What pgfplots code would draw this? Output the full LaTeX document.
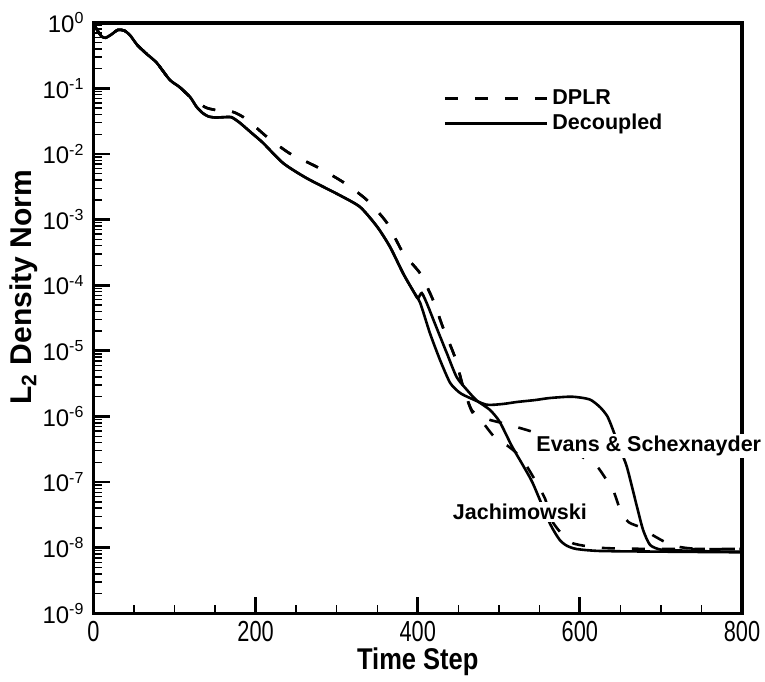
\documentclass[border=0pt]{standalone}
\usepackage{fontspec}
\setmainfont{Liberation Sans}
\usepackage{pgfplots}
\pgfplotsset{compat=1.18}

\begin{document}
\begin{tikzpicture}
\begin{axis}[
  scale only axis, width=324.25pt, height=295.3pt,
  ymode=log, xmin=0, xmax=800, ymin=1e-9, ymax=1,
  xtick={0,200,400,600,800}, xticklabels={0,200,400,600,800},
  minor x tick num=3,
  ytick={1e-9,1e-8,1e-7,1e-6,1e-5,1e-4,1e-3,1e-2,1e-1,1},
  yticklabels={10\textsuperscript{-9},10\textsuperscript{-8},10\textsuperscript{-7},10\textsuperscript{-6},10\textsuperscript{-5},10\textsuperscript{-4},10\textsuperscript{-3},10\textsuperscript{-2},10\textsuperscript{-1},10\textsuperscript{0}},
  tick pos=left, tick align=inside,
  axis line style={line width=1.8pt},
  major tick length=8pt, minor tick length=4pt,
  every major tick/.append style={line width=1.4pt, black},
  every minor tick/.append style={line width=0.7pt, black},
  xticklabel style={font=\fontsize{14.5}{14.5}\selectfont, xscale=0.75, inner sep=0pt, yshift=-4pt},
  yticklabel style={font=\fontsize{12}{12}\selectfont, xshift=-1pt},
  every axis x label/.style={at={(rel axis cs:0.5,0)}, yshift=-24pt, anchor=center, inner sep=0pt},
  every axis y label/.style={at={(rel axis cs:0,0.552)}, xshift=-34.8pt, rotate=90, anchor=center},
  xlabel={\bfseries\fontsize{15}{15}\selectfont\scalebox{0.85}[1]{Time Step}},
  ylabel={\bfseries\fontsize{15}{15}\selectfont L\textsubscript{2} Density Norm},
  clip mode=individual,
  legend style={at={(rel axis cs:0.539,0.895)}, anchor=north west, draw=none, fill=none,
    font=\bfseries\fontsize{10.75}{12}\selectfont, row sep=-1pt, inner sep=0pt,
    nodes={inner sep=2.2pt}},
  legend cell align=left,
  legend image code/.code={\draw[#1] (0pt,0pt) -- (51pt,0pt);},
  every axis plot/.append style={black, line width=1.3pt, smooth, tension=0.4},
  dplr/.style={dash pattern=on 6.5pt off 8.5pt},
]
% DPLR, Jachimowski
\addplot[dplr] coordinates {
(0,0.955) (5,0.759) (10,0.617) (15,0.589) (22,0.661) (30,0.776) (38,0.759)
(45,0.646) (54,0.457) (66,0.331) (78,0.245) (94,0.135) (106,0.105) (119,0.0741)
(130,0.0589) (140,0.0501) (155,0.0457) (172,0.0437) (185,0.0363) (200,0.0257)
(214,0.0182) (242,0.0102) (276,6.31e-3) (308,3.72e-3) (337,2.0e-3) (362,8.91e-4)
(382,3.09e-4) (403,1.51e-4) (419,5.89e-5) (431,2.29e-5) (446,7.94e-6) (456,2.82e-6)
(467,1.17e-6) (480,8.13e-7) (495,4.79e-7) (510,3.63e-7) (522,2.75e-7) (535,1.70e-7)
(547,9.55e-8) (557,5.6e-8) (562,3.5e-8) (567,2.4e-8) (579,1.55e-8) (591,1.17e-8)
(616,1.02e-8) (640,9.77e-9) (700,9.55e-9) (800,9.55e-9)};
\addlegendentry{DPLR}
% Decoupled, Jachimowski
\addplot[solid] coordinates {
(0,0.955) (5,0.759) (10,0.617) (15,0.589) (22,0.661) (30,0.776) (38,0.759)
(45,0.646) (54,0.457) (66,0.331) (78,0.245) (94,0.135) (106,0.105) (119,0.0741)
(127,0.0525) (135,0.0417) (142,0.0372) (150,0.0359) (160,0.0363) (170,0.0363)
(180,0.0302) (195,0.0209) (209,0.0148) (234,7.24e-3) (263,4.27e-3) (304,2.34e-3)
(329,1.55e-3) (350,7.76e-4) (366,3.80e-4) (382,1.51e-4) (394,8.32e-5)
(400,6.31e-5) (405,7.59e-5) (412,5.01e-5) (421,2.63e-5) (436,9.12e-6) (448,3.98e-6)
(461,2.51e-6) (473,1.74e-6) (489,1.26e-6) (501,8.32e-7) (516,3.55e-7) (530,1.78e-7)
(542,9.55e-8) (563,2.34e-8) (575,1.32e-8) (584,1.07e-8) (596,9.55e-9) (625,8.91e-9)
(700,8.71e-9) (800,8.51e-9)};
\addlegendentry{Decoupled}
% DPLR, Evans & Schexnayder
\addplot[dplr, forget plot] coordinates {
(0,0.955) (5,0.759) (10,0.617) (15,0.589) (22,0.661) (30,0.776) (38,0.759)
(45,0.646) (54,0.457) (66,0.331) (78,0.245) (94,0.135) (106,0.105) (119,0.0741)
(130,0.0589) (140,0.0501) (155,0.0457) (172,0.0437) (185,0.0363) (200,0.0257)
(214,0.0182) (242,0.0102) (276,6.31e-3) (308,3.72e-3) (337,2.0e-3) (362,8.91e-4)
(382,3.09e-4) (403,1.51e-4) (419,5.89e-5) (431,2.29e-5) (446,7.94e-6) (456,2.82e-6)
(467,1.23e-6) (483,9.33e-7) (510,7.59e-7) (543,5.75e-7) (575,3.89e-7) (606,2.29e-7)
(621,1.74e-7) (631,1.17e-7) (641,7.59e-8) (650,3.72e-8) (660,2.45e-8) (677,2.0e-8)
(690,1.55e-8) (708,1.17e-8) (724,1.02e-8) (748,9.55e-9) (800,9.55e-9)};
% Decoupled, Evans & Schexnayder
\addplot[solid, forget plot] coordinates {
(0,0.955) (5,0.759) (10,0.617) (15,0.589) (22,0.661) (30,0.776) (38,0.759)
(45,0.646) (54,0.457) (66,0.331) (78,0.245) (94,0.135) (106,0.105) (119,0.0741)
(127,0.0525) (135,0.0417) (142,0.0372) (150,0.0359) (160,0.0363) (170,0.0363)
(180,0.0302) (195,0.0209) (209,0.0148) (234,7.24e-3) (263,4.27e-3) (304,2.34e-3)
(329,1.55e-3) (350,7.76e-4) (366,3.80e-4) (382,1.51e-4) (394,8.32e-5)
(403,5.37e-5) (415,1.86e-5) (427.5,7.24e-6) (440,3.24e-6) (452,2.29e-6) (464.5,1.91e-6)
(485,1.51e-6) (505,1.55e-6) (522,1.66e-6) (545,1.78e-6) (563,1.91e-6) (590,2.0e-6)
(612,1.82e-6) (625,1.38e-6) (634,1.0e-6) (641,6.17e-7) (649.6,3.16e-7) (658,1.70e-7)
(670.5,4.17e-8) (678,1.86e-8) (686.6,1.10e-8) (700,9.33e-9) (720,9.12e-9) (740,8.91e-9)
(780,8.71e-9) (800,8.71e-9)};
\node[fill=white, inner sep=1pt, font=\bfseries\fontsize{10.75}{12}\selectfont] at (axis cs:685,3.6e-7) {Evans \& Schexnayder};
\node[fill=white, inner sep=1pt, font=\bfseries\fontsize{10.75}{12}\selectfont] at (axis cs:526,3.5e-8) {Jachimowski};
\coordinate (bl) at (rel axis cs:0,0);
\coordinate (tr) at (rel axis cs:1,1);
\end{axis}
\path ([shift={(-46.75pt,-33.85pt)}]bl) rectangle ([shift={(11.5pt,11.35pt)}]tr);
\end{tikzpicture}
\end{document}
